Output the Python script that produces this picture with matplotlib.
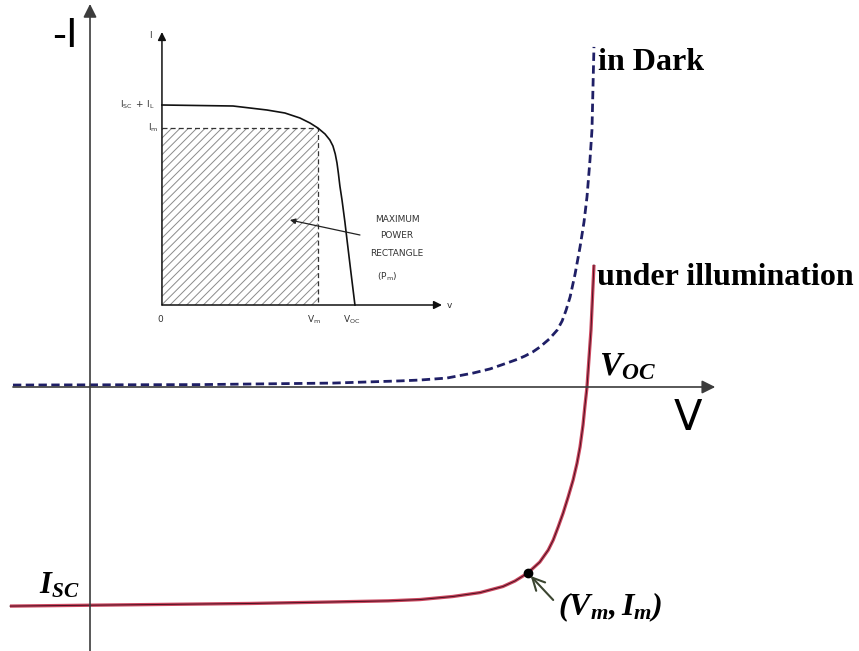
import numpy as np
import matplotlib
matplotlib.use("Agg")
import matplotlib.pyplot as plt
from matplotlib.patches import Rectangle

# mathtext in bold italic Times-like serif for the main labels,
# \mathsf is kept for the small sans labels of the inset
plt.rcParams['mathtext.fontset'] = 'custom'
plt.rcParams['mathtext.rm'] = 'Liberation Serif:italic:bold'
plt.rcParams['mathtext.it'] = 'Liberation Serif:italic:bold'
plt.rcParams['mathtext.bf'] = 'Liberation Serif:italic:bold'
plt.rcParams['mathtext.sf'] = 'DejaVu Sans'
plt.rcParams['hatch.linewidth'] = 0.7

# main I-V curves (V normalised to Voc, -I normalised to Isc)
v_dark = [-0.155, 0.221, 0.489, 0.624, 0.664, 0.718, 0.771, 0.805, 0.839, 0.861,
          0.875, 0.891, 0.905, 0.924, 0.940, 0.950, 0.958, 0.966, 0.976, 0.986,
          0.994, 1.000, 1.006, 1.010, 1.014]
i_dark = [0.009, 0.011, 0.018, 0.028, 0.032, 0.041, 0.064, 0.083, 0.110, 0.128,
          0.142, 0.161, 0.183, 0.220, 0.261, 0.303, 0.353, 0.413, 0.518, 0.642,
          0.757, 0.872, 1.041, 1.179, 1.560]

v_light = [-0.161, 0.322, 0.489, 0.600, 0.664, 0.730, 0.785, 0.831, 0.855,
           0.881, 0.905, 0.922, 0.932, 0.942, 0.952, 0.962, 0.972, 0.980, 0.986,
           0.992, 0.996, 1.000, 1.008, 1.014]
i_light = [-1.005, -0.993, -0.986, -0.981, -0.975, -0.961, -0.943, -0.915, -0.890,
           -0.853, -0.803, -0.748, -0.702, -0.642, -0.578, -0.505, -0.427, -0.349, -0.275,
           -0.174, -0.083, 0.0, 0.261, 0.560]

v_m, i_m = 0.881, -0.853
v_oc = 1.0
i_sc = -1.0

# inset: textbook I-V curve with the maximum power rectangle
v_in = [0, 0.368, 0.544, 0.637, 0.715, 0.767, 0.808, 0.845, 0.870, 0.886,
        0.898, 0.907, 0.914, 0.922, 0.933, 0.948, 0.959, 0.979, 1.0]
i_in = [1.0, 0.995, 0.975, 0.96, 0.935, 0.91, 0.885, 0.855, 0.825, 0.795,
        0.755, 0.71, 0.66, 0.595, 0.525, 0.415, 0.325, 0.165, 0.0]
vm_in, im_in = 0.808, 0.885

fig = plt.figure(figsize=(8.59, 6.51), dpi=100)
ax = fig.add_axes([0, 0, 1, 1])
ax.set_xlim(-0.1811, 1.5473)
ax.set_ylim(-1.2110, 1.7752)
ax.axis('off')

axis_col = '#3c3c3c'
# V axis and -I axis
ax.annotate('', xy=(1.258, 0), xytext=(-0.155, 0),
            arrowprops=dict(arrowstyle='-|>', color=axis_col, lw=1.2,
                            mutation_scale=20, shrinkA=0, shrinkB=0))
ax.annotate('', xy=(0, 1.757), xytext=(0, -1.215),
            arrowprops=dict(arrowstyle='-|>', color=axis_col, lw=1.2,
                            mutation_scale=20, shrinkA=0, shrinkB=0))

# dark curve
dark, = ax.plot(v_dark, i_dark, color='#1f1f66', lw=2.0, solid_capstyle='butt')
dark.set_dashes([3, 1.6])

# illuminated curve
ax.plot(v_light, i_light, color='#cc4860', lw=2.4, solid_capstyle='butt')
ax.plot(v_light, i_light, color='#4a1020', lw=0.7)

# maximum power point
ax.plot([v_m], [i_m], 'o', color='black', ms=6)
ax.annotate('', xy=(v_m, i_m), xytext=(0.932, -0.977),
            arrowprops=dict(arrowstyle='->', color='#3b4530', lw=1.5,
                            mutation_scale=22, shrinkA=0, shrinkB=3))

serif_bold = dict(family='Liberation Serif', weight='bold', fontsize=23)
ax.text(1.022, 1.454, 'in Dark', ha='left', va='baseline', **serif_bold)
ax.text(1.020, 0.468, 'under illumination', ha='left', va='baseline', **serif_bold)

ax.text(1.024, 0.055, r'$V_{OC}$', fontsize=24, ha='left', va='baseline')
ax.text(-0.103, -0.945, r'$I_{SC}$', fontsize=22, ha='left', va='baseline')
ax.text(0.941, -1.045, r'$(V_m, I_m)$', fontsize=23, ha='left', va='baseline')

ax.text(-0.050, 1.61, '-I', family='DejaVu Sans', fontsize=28, ha='center', va='center')
ax.text(1.203, -0.142, 'V', family='DejaVu Sans', fontsize=30, ha='center', va='center')

# inset drawing
ax_in = fig.add_axes([100 / 859, 1 - 330 / 651, 380 / 859, 330 / 651])
ax_in.set_xlim(-0.321, 1.648)
ax_in.set_ylim(-0.125, 1.525)
ax_in.axis('off')
ax_in.patch.set_alpha(0)

ax_in.add_patch(Rectangle((0, 0), vm_in, im_in, fill=False, hatch='////',
                          edgecolor='#8a8a8a', lw=0))
ax_in.plot([0, vm_in, vm_in], [im_in, im_in, 0], color='#333333', lw=0.9,
           ls=(0, (4, 2.5)))
ax_in.plot(v_in, i_in, color='#111111', lw=1.2)

ax_in.annotate('', xy=(1.451, 0), xytext=(0, 0),
               arrowprops=dict(arrowstyle='-|>', color='#111111', lw=1.1,
                               mutation_scale=12, shrinkA=0, shrinkB=0))
ax_in.annotate('', xy=(0, 1.365), xytext=(0, 0),
               arrowprops=dict(arrowstyle='-|>', color='#111111', lw=1.1,
                               mutation_scale=12, shrinkA=0, shrinkB=0))

small = dict(family='DejaVu Sans', fontsize=6.5, color='#333333')
ax_in.text(-0.062, 1.35, 'I', ha='center', va='center', **small)
ax_in.text(-0.036, 1.0, r'$\mathsf{I_{SC}\ +\ I_L}$', ha='right', va='center', **small)
ax_in.text(-0.02, im_in, r'$\mathsf{I_m}$', ha='right', va='center', **small)
ax_in.text(-0.01, -0.075, '0', ha='center', va='center', **small)
ax_in.text(vm_in - 0.02, -0.075, r'$\mathsf{V_m}$', ha='center', va='center', **small)
ax_in.text(0.985, -0.075, r'$\mathsf{V_{OC}}$', ha='center', va='center', **small)
ax_in.text(1.49, 0.0, 'v', ha='center', va='center', **small)

ax_in.text(1.218, 0.425, 'MAXIMUM', ha='center', va='center', **small)
ax_in.text(1.218, 0.35, 'POWER', ha='center', va='center', **small)
ax_in.text(1.218, 0.26, 'RECTANGLE', ha='center', va='center', **small)
ax_in.text(1.166, 0.14, r'$\mathsf{(P_m)}$', ha='center', va='center', **small)
ax_in.annotate('', xy=(0.663, 0.425), xytext=(1.026, 0.35),
               arrowprops=dict(arrowstyle='-|>', color='#222222', lw=0.9,
                               mutation_scale=8, shrinkA=0, shrinkB=0))

fig.savefig('out.png', dpi=100)
